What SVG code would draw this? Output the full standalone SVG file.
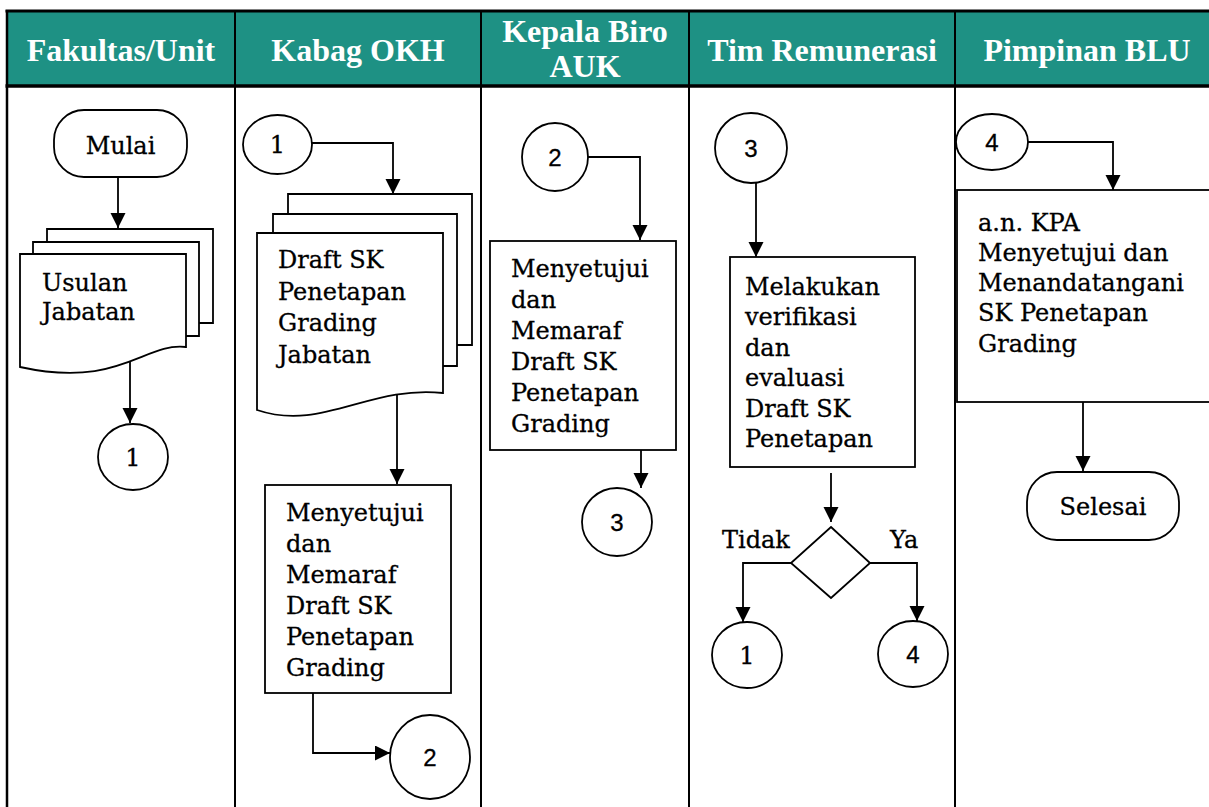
<svg xmlns="http://www.w3.org/2000/svg" width="1209" height="807" viewBox="0 0 1209 807">
<defs>
<marker id="ah" markerUnits="userSpaceOnUse" markerWidth="16" markerHeight="16" refX="15" refY="7.5" orient="auto">
<path d="M0,0 L15,7.5 L0,15 z" fill="#000"/>
</marker>
<style>
.hdr{font-family:"Liberation Serif","Times New Roman",serif;font-weight:bold;font-size:32px;fill:#fff;text-anchor:middle}
.t{font-family:"DejaVu Serif",serif;font-size:24px;fill:#000;stroke:#000;stroke-width:0.3}
.n{font-family:"Liberation Sans",Arial,sans-serif;font-size:24px;fill:#000;stroke:#000;stroke-width:0.3;text-anchor:middle}
.ns{font-family:"DejaVu Serif",serif;font-size:24px;fill:#000;stroke:#000;stroke-width:0.3;text-anchor:middle}
.s{fill:#fff;stroke:#000;stroke-width:1.8}
.c{fill:none;stroke:#000;stroke-width:1.8;marker-end:url(#ah)}
.ln{stroke:#000;fill:none}
</style>
</defs>
<rect x="0" y="0" width="1209" height="807" fill="#fff"/>
<g id="table">
<rect x="7" y="11" width="1210" height="75" fill="#1E9184"/>
<line class="ln" x1="5.5" y1="11" x2="1209" y2="11" stroke-width="3"/>
<line class="ln" x1="5.5" y1="86" x2="1209" y2="86" stroke-width="3.5"/>
<line class="ln" x1="7" y1="10" x2="7" y2="807" stroke-width="2.5"/>
<line class="ln" x1="235" y1="10" x2="235" y2="807" stroke-width="2"/>
<line class="ln" x1="481" y1="10" x2="481" y2="807" stroke-width="2"/>
<line class="ln" x1="689" y1="10" x2="689" y2="807" stroke-width="2"/>
<line class="ln" x1="955" y1="10" x2="955" y2="807" stroke-width="2"/>
<text class="hdr" x="121" y="61">Fakultas/Unit</text>
<text class="hdr" x="358" y="61">Kabag OKH</text>
<text class="hdr" x="585" y="42">Kepala Biro</text>
<text class="hdr" x="585" y="77">AUK</text>
<text class="hdr" x="822" y="61">Tim Remunerasi</text>
<text class="hdr" x="1087" y="61">Pimpinan BLU</text>
</g>
<g id="connectors">
<path class="c" d="M118,177 L118,228"/>
<path class="c" d="M130,352 L130,423"/>
<path class="c" d="M312,143 L393,143 L393,194"/>
<path class="c" d="M397,395 L397,484"/>
<path class="c" d="M313,693 L313,753 L390,753"/>
<path class="c" d="M588,157 L640,157 L640,240"/>
<path class="c" d="M641,450 L641,488"/>
<path class="c" d="M756,183 L756,257"/>
<path class="c" d="M831,473 L831,522"/>
<path class="c" d="M791,563 L743,563 L743,622"/>
<path class="c" d="M870,563 L917,563 L917,621"/>
<path class="c" d="M1028,142 L1113,142 L1113,190"/>
<path class="c" d="M1083,402 L1083,471"/>
</g>
<g id="mulai">
<rect class="s" x="54" y="110" width="133" height="67" rx="30" ry="30"/>
<text class="ns" x="120.5" y="154">Mulai</text>
</g>
<g id="usulan">
<path class="s" d="M47,229 H213 V323 H47 Z"/>
<path class="s" d="M33,242 H199 V336 H33 Z"/>
<path class="s" d="M20,254 H186 V347 C144,342 120,389 20,367 Z"/>
<text class="t" x="42" y="291">Usulan</text>
<text class="t" x="42" y="320">Jabatan</text>
</g>
<g id="c1a">
<ellipse class="s" cx="133" cy="457" rx="35" ry="33"/>
<text class="ns" x="133" y="466">1</text>
</g>
<g id="c1b">
<ellipse class="s" cx="277.5" cy="144.5" rx="34.5" ry="29.5"/>
<text class="ns" x="277.5" y="153">1</text>
</g>
<g id="draft">
<path class="s" d="M288,194 H472 V345 H288 Z"/>
<path class="s" d="M273,214 H457 V366 H273 Z"/>
<path class="s" d="M257,233 H443 V393 C369,385 322,432 257,410 Z"/>
<text class="t" x="278" y="268">Draft SK</text>
<text class="t" x="278" y="300">Penetapan</text>
<text class="t" x="278" y="331">Grading</text>
<text class="t" x="278" y="363">Jabatan</text>
</g>
<g id="paraf1">
<rect class="s" x="265" y="485" width="186" height="208"/>
<text class="t" x="286" y="521">Menyetujui</text>
<text class="t" x="286" y="552">dan</text>
<text class="t" x="286" y="583">Memaraf</text>
<text class="t" x="286" y="614">Draft SK</text>
<text class="t" x="286" y="645">Penetapan</text>
<text class="t" x="286" y="676">Grading</text>
</g>
<g id="c2a">
<ellipse class="s" cx="430" cy="757" rx="40" ry="42"/>
<text class="n" x="430" y="766">2</text>
</g>
<g id="c2b">
<ellipse class="s" cx="555" cy="157" rx="33" ry="34"/>
<text class="n" x="555" y="166">2</text>
</g>
<g id="paraf2">
<rect class="s" x="490" y="241" width="186" height="209"/>
<text class="t" x="511" y="277">Menyetujui</text>
<text class="t" x="511" y="308">dan</text>
<text class="t" x="511" y="339">Memaraf</text>
<text class="t" x="511" y="370">Draft SK</text>
<text class="t" x="511" y="401">Penetapan</text>
<text class="t" x="511" y="432">Grading</text>
</g>
<g id="c3a">
<ellipse class="s" cx="617" cy="522" rx="35" ry="34"/>
<text class="n" x="617" y="531">3</text>
</g>
<g id="c3b">
<ellipse class="s" cx="751" cy="148" rx="36" ry="35"/>
<text class="n" x="751" y="157">3</text>
</g>
<g id="verifikasi">
<rect class="s" x="730" y="257" width="185" height="210"/>
<text class="t" x="745" y="295">Melakukan</text>
<text class="t" x="745" y="325">verifikasi</text>
<text class="t" x="745" y="356">dan</text>
<text class="t" x="745" y="386">evaluasi</text>
<text class="t" x="745" y="417">Draft SK</text>
<text class="t" x="745" y="447">Penetapan</text>
</g>
<g id="decision">
<path class="s" d="M831,527 L870,563 L831,598 L791,563 Z"/>
<text class="t" x="722" y="548">Tidak</text>
<text class="t" x="890" y="548">Ya</text>
</g>
<g id="c1c">
<ellipse class="s" cx="747" cy="655" rx="35" ry="33"/>
<text class="ns" x="747" y="664">1</text>
</g>
<g id="c4a">
<ellipse class="s" cx="913" cy="654" rx="35" ry="33"/>
<text class="n" x="913" y="663">4</text>
</g>
<g id="c4b">
<ellipse class="s" cx="992" cy="142" rx="36" ry="28"/>
<text class="n" x="992" y="151">4</text>
</g>
<g id="ttd">
<rect class="s" x="957" y="190" width="260" height="212"/>
<text class="t" x="978" y="231">a.n. KPA</text>
<text class="t" x="978" y="261">Menyetujui dan</text>
<text class="t" x="978" y="291">Menandatangani</text>
<text class="t" x="978" y="321">SK Penetapan</text>
<text class="t" x="978" y="352">Grading</text>
</g>
<g id="selesai">
<rect class="s" x="1027" y="472" width="152" height="68" rx="30" ry="30"/>
<text class="ns" x="1103" y="515">Selesai</text>
</g>
</svg>
